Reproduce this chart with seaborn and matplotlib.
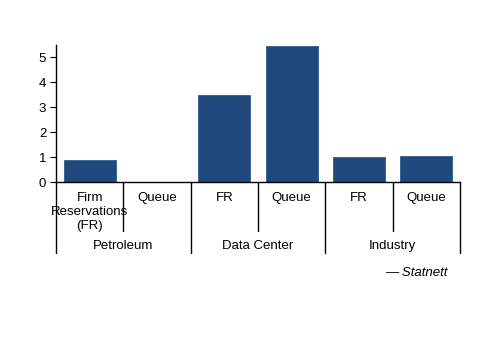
import numpy as np
import pandas as pd
import matplotlib
matplotlib.use('Agg')
import matplotlib.pyplot as plt
import matplotlib.transforms as mtransforms
import seaborn as sns

# data
groups = ['Petroleum', 'Petroleum', 'Data Center', 'Data Center', 'Industry', 'Industry']
types = ['Firm\nReservations\n(FR)', 'Queue', 'FR', 'Queue', 'FR', 'Queue']
values = [0.9, 0.0, 3.5, 5.45, 1.0, 1.03]
group_names = ['Petroleum', 'Data Center', 'Industry']
yticks = [0, 1, 2, 3, 4, 5]

df = pd.DataFrame({'key': [g + '|' + t for g, t in zip(groups, types)],
                   'value': values})

sns.set_style('white')
plt.rcParams['font.family'] = ['Liberation Sans', 'DejaVu Sans']
plt.rcParams['text.color'] = 'black'
plt.rcParams['ytick.color'] = 'black'

fig = plt.figure(figsize=(5, 3.53), dpi=100)
ax = fig.add_axes([0.112, 0.4844, 0.808, 0.388])

sns.barplot(data=df, x='key', y='value', color='#1F497D', width=0.77,
            edgecolor='#2E5C94', linewidth=0.6, saturation=1, ax=ax)

ax.set_ylim(0, 5.5)
ax.set_xlim(-0.5, len(types) - 0.5)
ax.set_yticks(yticks)
ax.set_yticklabels([str(v) for v in yticks], fontsize=9.5)
ax.set_xticks([])
ax.set_xlabel('')
ax.set_ylabel('')
ax.tick_params(axis='y', direction='out', length=4, width=0.8, left=True, pad=3)
for s in ['top', 'right']:
    ax.spines[s].set_visible(False)
for s in ['left', 'bottom']:
    ax.spines[s].set_color('black')
    ax.spines[s].set_linewidth(1.0)

trans = mtransforms.blended_transform_factory(ax.transData, ax.transAxes)

# category labels
for i, t in enumerate(types):
    ax.text(i, -0.07, t, transform=trans, ha='center', va='top', fontsize=9.5,
            linespacing=1.25)

# separators between categories (short) and groups (long)
for b in np.arange(-0.5, len(types), 1.0):
    if int(b + 0.5) % 2 == 0:
        ax.plot([b, b], [0, -0.52], transform=trans, color='black', lw=1.0, clip_on=False)
    else:
        ax.plot([b, b], [0, -0.36], transform=trans, color='black', lw=1.0, clip_on=False)

# group labels
for j, g in enumerate(group_names):
    ax.text(2 * j + 0.5, -0.465, g, transform=trans, ha='center', va='center', fontsize=9.5)

fig.text(0.895, 0.228, '\u2014 Statnett', ha='right', va='center', fontsize=9.5, style='italic')

fig.savefig('out.png', dpi=100)
